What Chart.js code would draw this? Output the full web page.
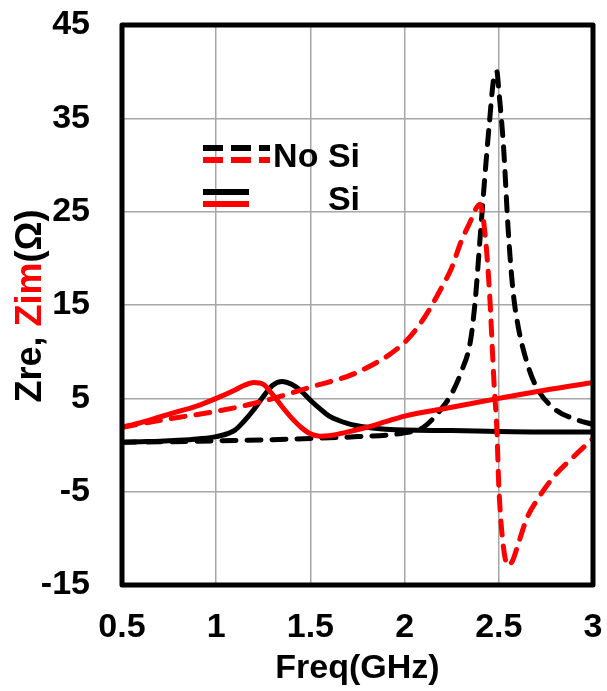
<!DOCTYPE html>
<html>
<head>
<meta charset="utf-8">
<script src="https://cdn.jsdelivr.net/npm/chart.js@4"></script>
<style>
html,body{margin:0;padding:0;background:#fff}
#c{display:block}
</style>
</head>
<body>
<canvas id="c" width="607" height="691"></canvas>
<script>
// frequency grids (GHz)
const freqNoSi = [0.5,0.75,1.0,1.25,1.5,1.75,2.0,2.1,2.2,2.25,2.3,2.35,2.375,2.4,2.425,2.45,2.475,2.49,2.5,2.525,2.55,2.575,2.6,2.65,2.7,2.8,2.9,3.0]
const zreNoSi  = [0.3,0.35,0.45,0.55,0.7,0.9,1.3,1.9,4.0,5.5,7.8,11.2,15.5,22,28.5,34.5,39.5,40,38,32,23,16.6,13,8.8,6.2,3.8,2.8,2.2]
const zimNoSi  = [1.9,2.8,3.6,4.7,6.2,7.8,11.0,13.5,17.0,19.0,21.8,24.0,25.2,25.8,23.0,16.6,6.5,1.5,-4.4,-11.0,-12.9,-12.3,-10.8,-7.8,-6.0,-3.2,-1.2,0.7]

const freqSi = [0.5,0.6,0.7,0.8,0.9,1.0,1.1,1.15,1.2,1.25,1.3,1.35,1.4,1.45,1.5,1.55,1.6,1.7,1.8,1.9,2.0,2.25,2.5,2.75,3.0]
const zreSi  = [0.3,0.35,0.4,0.5,0.65,0.9,1.6,2.6,3.8,5.2,6.4,6.8,6.5,5.8,4.8,3.9,3.1,2.3,1.9,1.7,1.6,1.55,1.45,1.4,1.4]
const zimSi  = [1.9,2.4,3.0,3.6,4.2,5.0,5.9,6.4,6.7,6.5,5.4,4.1,2.9,1.9,1.2,0.95,1.0,1.4,1.9,2.5,3.1,4.05,5.0,5.9,6.7]

const xTicks = [0.5,1,1.5,2,2.5,3]
const xTickLabels = ['0.5','1','1.5','2','2.5','3']
const yTicks = [-15,-5,5,15,25,35,45]
const legendLabels = ['No Si','Si']

const FONT = '"Liberation Sans", Arial, sans-serif'
const pts=(xs,ys)=>xs.map((x,i)=>({x,y:ys[i]}))

function ds(label,data,color,dashed){
  return {label,data,borderColor:color,backgroundColor:color,borderWidth:5,pointRadius:0,
    borderDash:dashed?[14,11]:[],borderCapStyle:dashed?'round':'butt',borderJoinStyle:'round',
    cubicInterpolationMode:'monotone',fill:false}
}
function noPad(s){s.paddingLeft=0;s.paddingRight=0;s.paddingTop=0;s.paddingBottom=0}

const frame = {id:'frame',afterDatasetsDraw(chart){
  const {ctx,chartArea:a}=chart
  ctx.save();ctx.lineWidth=5;ctx.strokeStyle='#000';ctx.lineJoin='round'
  ctx.strokeRect(a.left,a.top,a.right-a.left,a.bottom-a.top);ctx.restore()
}}

const yTitle = {id:'yTitle',afterDraw(chart){
  const {ctx,chartArea:a}=chart
  const parts=[['Zre, ','#000'],['Zim','#ff0000'],['(Ω)','#000']]
  ctx.save();ctx.font='bold 36px '+FONT;ctx.textBaseline='middle';ctx.textAlign='left'
  const total=parts.reduce((s,p)=>s+ctx.measureText(p[0]).width,0)
  ctx.translate(31,(a.top+a.bottom)/2+1);ctx.rotate(-Math.PI/2)
  let x=-total/2
  parts.forEach(([t,c])=>{ctx.fillStyle=c;ctx.fillText(t,x,0);x+=ctx.measureText(t).width})
  ctx.restore()
}}

const legendBox = {id:'legendBox',afterDraw(chart){
  const {ctx,chartArea:a}=chart
  const x0=a.left+81, textR=a.left+238
  ctx.save();ctx.lineWidth=6;ctx.lineCap='butt'
  // dashed pair
  ctx.setLineDash([20,8])
  ctx.strokeStyle='#000';ctx.beginPath();ctx.moveTo(x0,a.top+123);ctx.lineTo(x0+67,a.top+123);ctx.stroke()
  ctx.strokeStyle='#ff0000';ctx.beginPath();ctx.moveTo(x0,a.top+135);ctx.lineTo(x0+67,a.top+135);ctx.stroke()
  // solid pair
  ctx.setLineDash([])
  ctx.strokeStyle='#000';ctx.beginPath();ctx.moveTo(x0,a.top+167);ctx.lineTo(x0+46,a.top+167);ctx.stroke()
  ctx.strokeStyle='#ff0000';ctx.beginPath();ctx.moveTo(x0,a.top+179);ctx.lineTo(x0+46,a.top+179);ctx.stroke()
  ctx.fillStyle='#000';ctx.font='bold 34px '+FONT;ctx.textAlign='right';ctx.textBaseline='alphabetic'
  ctx.fillText(legendLabels[0],textR,a.top+142)
  ctx.fillText(legendLabels[1],textR,a.top+185)
  ctx.restore()
}}

new Chart(document.getElementById('c'),{
  type:'line',
  data:{datasets:[
    ds('Zim Si',pts(freqSi,zimSi),'#ff0000',false),
    ds('Zim No Si',pts(freqNoSi,zimNoSi),'#ff0000',true),
    ds('Zre Si',pts(freqSi,zreSi),'#000',false),
    ds('Zre No Si',pts(freqNoSi,zreNoSi),'#000',true)
  ]},
  options:{
    responsive:false,animation:false,
    layout:{padding:{left:0,right:14,top:25,bottom:0}},
    plugins:{legend:{display:false},tooltip:{enabled:false}},
    scales:{
      x:{type:'linear',min:0.5,max:3,
        afterBuildTicks:s=>{s.ticks=xTicks.map(v=>({value:v}))},
        afterFit:s=>{s.height=106;noPad(s)},
        grid:{color:'#a6a6a6',lineWidth:1.5,drawTicks:false},border:{display:false},
        ticks:{color:'#000',padding:22,maxRotation:0,font:{family:FONT,size:34,weight:'bold'},
          callback:v=>xTickLabels[xTicks.indexOf(v)]},
        title:{display:true,text:'Freq(GHz)',color:'#000',padding:{top:0,bottom:2},font:{family:FONT,size:34,weight:'bold'}}},
      y:{min:-15,max:45,
        afterBuildTicks:s=>{s.ticks=yTicks.map(v=>({value:v}))},
        afterFit:s=>{s.width=122;noPad(s)},
        grid:{color:'#a6a6a6',lineWidth:1.5,drawTicks:false},border:{display:false},
        ticks:{color:'#000',padding:32,font:{family:FONT,size:34,weight:'bold'}}}
    }
  },
  plugins:[frame,yTitle,legendBox]
})
</script>
</body>
</html>
